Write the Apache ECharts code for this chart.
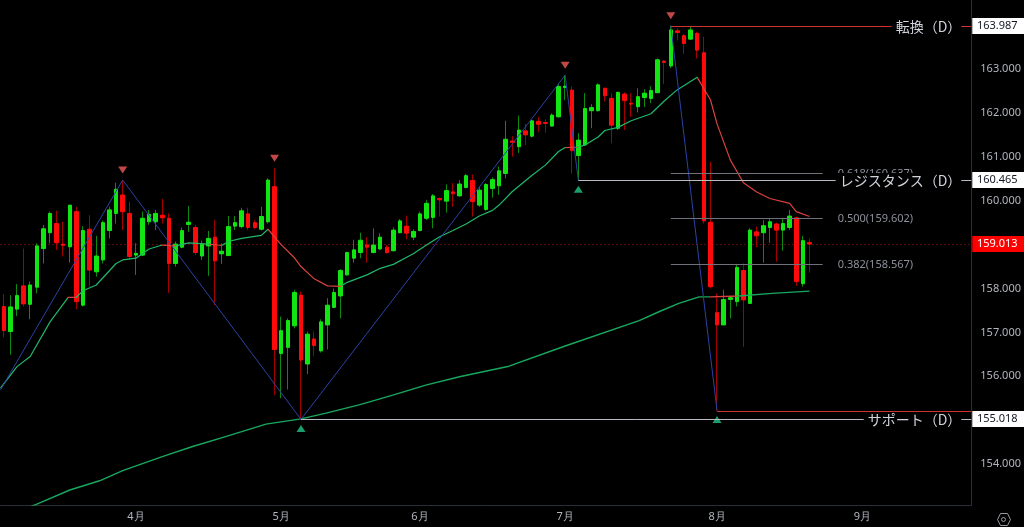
<!DOCTYPE html>
<html><head><meta charset="utf-8">
<style>html,body{margin:0;padding:0;background:#000;}#c{width:1024px;height:527px;}</style>
<script src="https://cdn.jsdelivr.net/npm/echarts@6/dist/echarts.min.js"></script>
</head><body><div id="c"></div>
<script>
// ---- candle data (index 0..122) ----
const opens  = [157.59,157.02,157.53,158.06,157.64,158.03,158.91,159.27,159.48,159.01,158.95,159.75,157.62,159.35,158.38,158.65,159.32,159.71,160.13,159.71,
158.76,158.76,159.52,159.52,159.67,159.60,158.57,158.94,159.46,159.39,158.74,158.97,159.17,158.79,158.75,159.42,159.41,159.70,159.50,159.35,
159.52,160.32,156.52,156.66,157.15,157.85,156.28,156.85,156.58,157.17,157.57,157.83,158.31,158.69,158.82,158.99,158.82,158.90,158.94,158.86,
159.27,159.42,159.17,159.32,159.60,159.62,160.05,159.99,160.20,160.11,160.30,160.46,159.90,159.80,160.28,160.34,160.62,161.36,161.23,161.59,
161.47,161.81,161.78,161.70,161.91,162.58,162.52,161.03,161.27,162.05,162.05,162.56,162.33,161.65,162.43,162.22,162.14,162.35,162.33,162.46,
163.18,163.07,163.87,163.76,163.68,163.81,163.37,159.51,157.45,157.17,157.75,157.70,158.41,157.66,159.29,159.27,159.39,159.47,159.33,159.39,
159.61,158.11,159.05];
const highs  = [157.87,157.85,158.10,158.91,158.16,159.03,159.45,159.75,159.77,159.52,159.90,159.86,159.42,159.67,159.20,159.55,159.86,160.41,160.47,159.98,
159.03,159.75,159.79,159.79,160.04,159.71,159.07,159.39,159.88,159.45,159.09,159.31,159.56,159.03,159.65,159.65,159.84,159.84,159.56,159.86,
160.51,160.74,157.36,157.32,157.97,157.93,157.02,157.02,157.30,157.78,158.00,158.44,158.84,159.11,159.27,159.17,159.37,159.26,158.99,159.39,
159.58,159.66,159.35,159.75,160.02,160.15,160.07,160.37,160.40,160.47,160.61,160.60,160.32,160.40,160.53,160.78,161.82,161.47,161.94,161.75,
161.85,161.91,161.85,161.99,162.67,162.86,162.60,161.54,162.45,162.20,162.67,162.58,162.45,162.48,162.47,162.45,162.56,162.54,162.61,163.24,
163.20,163.987,163.93,163.80,163.96,163.85,163.74,160.89,157.89,157.97,157.83,158.56,158.57,159.37,159.41,159.56,159.58,159.50,159.60,159.79,
159.64,159.20,159.14];
const lows   = [156.89,156.49,157.37,157.59,157.30,157.89,158.57,159.03,158.88,158.73,158.59,157.53,157.59,158.04,158.27,158.57,159.14,159.48,159.33,158.65,
158.31,158.74,159.45,159.33,159.48,157.90,158.50,158.92,159.29,158.76,158.65,158.29,157.62,158.56,158.74,159.33,159.37,159.33,159.35,159.32,
159.48,155.57,155.50,155.70,157.09,155.018,156.05,156.46,156.54,156.61,157.56,157.32,158.29,158.59,158.69,158.59,158.80,158.88,158.79,158.84,
159.26,159.12,159.10,159.30,159.56,159.37,159.64,159.73,159.86,160.09,160.28,159.64,159.86,159.77,160.07,160.13,160.51,161.00,161.09,161.27,
161.44,161.57,161.55,161.69,161.90,162.29,160.62,160.465,161.25,161.65,162.03,162.26,161.31,161.61,161.61,161.91,162.01,162.13,162.22,162.45,
162.66,163.02,163.65,163.34,163.66,163.24,159.48,158.00,155.218,157.17,157.32,157.59,156.67,157.66,158.94,158.59,159.04,158.61,158.86,159.33,
158.06,158.04,158.36];
const closes = [157.04,157.58,157.84,157.65,158.08,158.97,159.36,159.71,159.04,158.98,159.90,157.70,159.32,158.42,158.74,159.50,159.79,160.26,159.75,158.73,
158.80,159.60,159.69,159.71,159.61,158.57,159.01,159.32,159.51,158.82,159.01,159.14,158.63,158.85,159.41,159.50,159.77,159.39,159.39,159.64,
160.47,156.61,157.04,157.27,157.91,156.37,156.96,156.70,157.24,157.62,157.91,158.41,158.82,158.88,159.10,158.94,158.99,159.17,158.82,159.33,
159.54,159.26,159.30,159.70,159.94,160.11,160.02,160.23,160.16,160.38,160.57,159.98,160.24,160.37,160.48,160.68,161.40,161.33,161.61,161.50,
161.82,161.74,161.76,161.95,162.60,162.61,161.14,161.38,162.10,162.12,162.64,162.39,161.72,162.47,162.28,162.20,162.37,162.45,162.51,163.21,
163.15,163.89,163.83,163.58,163.89,163.43,159.54,158.04,157.17,157.75,157.79,158.48,157.74,159.33,159.20,159.43,159.52,159.33,159.48,159.65,
158.16,159.09,159.013];

// ---- axis ----
const totalSlots = 147;                       // daily slots incl. empty future area
const monthLabels = ['4月','5月','6月','7月','8月','9月'];
const monthIdx = [20,42,63,85,108,130];
const yTicks = [154,155,156,157,158,159,160,161,162,163];
const yMin = 153.068, yMax = 164.572;

// ---- moving averages (read at points) ----
const shortMaIdx = [-0.5,2,4,7,9.75,11,12,14,17,18,20,22,24,26,28,31,33,34,36,39,40,42,44,45,47,49,51,52,55,57,59,61,62,64,66,68,70,72,74,75,77,80,82,84,85,87,88,90,91,93,95,98,100,102,105,106,107,108,110,112,114,116,119,120,122];
const shortMaVal = [155.73,156.22,156.45,157.24,157.80,157.80,157.95,158.08,158.57,158.65,158.69,158.90,158.99,158.97,159.04,159.01,158.98,159.07,159.14,159.21,159.35,159.00,158.70,158.50,158.22,158.06,158.05,158.14,158.31,158.46,158.55,158.71,158.79,158.99,159.18,159.32,159.47,159.65,159.78,159.90,160.21,160.58,160.81,161.12,161.21,161.22,161.27,161.45,161.60,161.67,161.82,161.98,162.27,162.53,162.81,162.55,162.30,161.75,160.93,160.41,160.20,160.05,159.94,159.75,159.64];
const shortMaDown = [[9.75,11],[24,26],[31,33],[40,51],[85,87],[105,123]];
const longMaIdx = [0,5,10,14.5,18,24,28.6,33.7,39.7,45,48.8,53.8,58.9,63.9,69,76.5,85,96.2,99.2,102.2,105.3,107,111.3,116.3,122];
const longMaVal = [152.77,153.09,153.41,153.62,153.85,154.17,154.40,154.63,154.91,155.03,155.16,155.35,155.57,155.80,155.99,156.23,156.69,157.27,157.47,157.66,157.81,157.81,157.83,157.89,157.94];
const longMaDown = [[107,111]];

// ---- zigzag & pivots ----
const zigzagStart = [-0.5, 155.69];
const zigzagLegA = [18,45,85,87];   // pivot indices (high/low alternating)
const zigzagLegB = [101,108];
const pivotHighIdx = [18,41,85,101];
const pivotLowIdx = [45,87,108];

// ---- levels ----
const levelNames = ['転換（D）','レジスタンス（D）','サポート（D）'];
const levelPrices = [163.987,160.465,155.018];
const levelStart = [101,87,45];
const swingLowPrice = 155.218, swingLowStart = 108;
const fibRatios = [0.618,0.5,0.382];
const fibHigh = 163.987, fibLow = 155.2175, fibStart = 101, fibEnd = 124;
const lastPrice = 159.013;
const tagPrices = [163.987,160.465,155.018,159.013];

// ---- build ----
const GREEN = '#1fb86a', RED = '#d8433e';
function pieces(down, green, red){
  const p = []; let cur = -10;
  down.forEach(([a,b])=>{ p.push({gte:cur, lt:a, color:green}); p.push({gte:a, lt:b, color:red}); cur = b; });
  p.push({gte:cur, lt:1000, color:green});
  return p;
}
const cats = Array.from({length: totalSlots}, (_, i) => String(i));
const wickData = opens.map((o,i)=>[o, closes[i], lows[i], highs[i]]);
const bodyData = opens.map((o,i)=>[o, closes[i], Math.min(o,closes[i]), Math.max(o,closes[i])]);
const crisp = v => Math.round(v) + 0.5;

const chart = echarts.init(document.getElementById('c'), null, {renderer:'canvas'});
chart.setOption({
  backgroundColor:'#000',
  animation:false,
  grid:{left:0.5, right:51, top:0, bottom:22},
  xAxis:[{
    type:'category', data:cats, boundaryGap:true,
    axisLine:{onZero:false, lineStyle:{color:'#2a2e39'}}, axisTick:{show:false},
    axisLabel:{color:'#b2b5be', fontSize:11, margin:6, fontFamily:'Noto Sans',
      interval:(i)=>monthIdx.includes(i),
      formatter:(v,i)=>{const k = monthIdx.indexOf(i); return k>=0 ? monthLabels[k] : '';}},
    splitLine:{show:false}
  },{
    type:'value', min:-0.5, max:totalSlots-0.5, show:false,
    axisLine:{onZero:false}
  }],
  yAxis:{
    type:'value', position:'right', min:yMin, max:yMax, scale:true,
    axisLine:{show:true, onZero:false, lineStyle:{color:'#2a2e39'}}, axisTick:{show:false},
    splitLine:{show:false},
    axisLabel:{customValues:yTicks, color:'#b2b5be', fontSize:11, margin:9, fontFamily:'Noto Sans',
      formatter:v=>v.toFixed(3)}
  },
  visualMap:[
    {type:'piecewise', show:false, seriesIndex:2, dimension:0, pieces:pieces(shortMaDown, GREEN, RED)},
    {type:'piecewise', show:false, seriesIndex:3, dimension:0, pieces:pieces(longMaDown, '#17a85e', RED)}
  ],
  series:[
    {type:'candlestick', name:'wick', xAxisIndex:0, data:wickData, barWidth:1, silent:true, z:2,
      itemStyle:{color:'#0e8a0e', color0:'#a30000', borderColor:'#0e8a0e', borderColor0:'#a30000', borderWidth:1}},
    {type:'candlestick', name:'body', xAxisIndex:0, data:bodyData, barWidth:4, silent:true, z:3,
      itemStyle:{color:'#12e612', color0:'#ff0a0a', borderColor:'#12e612', borderColor0:'#ff0a0a', borderWidth:1}},
    {type:'line', name:'MA short', xAxisIndex:1, data:shortMaIdx.map((x,i)=>[x, shortMaVal[i]]),
      symbol:'none', lineStyle:{width:1.2}, z:4, silent:true},
    {type:'line', name:'MA long', xAxisIndex:1, data:longMaIdx.map((x,i)=>[x, longMaVal[i]]),
      symbol:'none', lineStyle:{width:1.4}, z:4, silent:true},
    {type:'line', name:'zigzag A', xAxisIndex:1, symbol:'none', silent:true, z:4,
      data:[zigzagStart].concat(zigzagLegA.map((x,k)=>[x, k%2===0 ? highs[x] : lows[x]])),
      lineStyle:{color:'#2b42a6', width:1}},
    {type:'line', name:'zigzag B', xAxisIndex:1, symbol:'none', silent:true, z:4,
      data:zigzagLegB.map((x,k)=>[x, k%2===0 ? highs[x] : lows[x]]),
      lineStyle:{color:'#2b42a6', width:1}},
    {type:'scatter', name:'pivot high', xAxisIndex:1, symbol:'triangle', symbolRotate:180,
      symbolSize:[9,7], symbolOffset:[0,-10], silent:true, z:6,
      itemStyle:{color:'#f25a5a'}, data:pivotHighIdx.map(x=>[x, highs[x]])},
    {type:'scatter', name:'pivot low', xAxisIndex:1, symbol:'triangle',
      symbolSize:[9,7], symbolOffset:[0,9], silent:true, z:6,
      itemStyle:{color:'#22c487'}, data:pivotLowIdx.map(x=>[x, lows[x]])},
    // last price dotted line
    {type:'custom', name:'last price', xAxisIndex:1, clip:false, silent:true, z:1,
      data:[[0, lastPrice]],
      renderItem:(params, api)=>{
        const cs = params.coordSys; const p = api.coord([0, api.value(1)]);
        const y = crisp(p[1]);
        return {type:'line', shape:{x1:cs.x, y1:y, x2:cs.x+cs.width, y2:y},
          style:{stroke:'#b31717', lineWidth:1, lineDash:[1,3]}};
      }},
    // fib retracement
    {type:'custom', name:'fib', xAxisIndex:1, clip:false, silent:true, z:5,
      data:fibRatios.map(r=>[fibStart, fibLow + r*(fibHigh-fibLow), r]),
      renderItem:(params, api)=>{
        const s = api.coord([api.value(0), api.value(1)]);
        const e = api.coord([fibEnd, api.value(1)]);
        const y = crisp(s[1]);
        return {type:'group', children:[
          {type:'line', shape:{x1:s[0], y1:y, x2:e[0], y2:y}, style:{stroke:'#6f727c', lineWidth:1}},
          {type:'text', style:{text: api.value(2).toFixed(3)+'('+api.value(1).toFixed(3)+')',
            x:e[0]+15, y:y, align:'left', verticalAlign:'middle', fill:'#8d909a', font:'11px "Noto Sans"'}}
        ]};
      }},
    // named levels
    {type:'custom', name:'levels', xAxisIndex:1, clip:false, silent:true, z:7,
      data:levelPrices.map((p,i)=>[levelStart[i], p]),
      renderItem:(params, api)=>{
        const cs = params.coordSys; const i = params.dataIndex;
        const s = api.coord([api.value(0), api.value(1)]);
        const right = cs.x + cs.width; const y = crisp(s[1]);
        const col = i===0 ? '#d03232' : '#b8bbc3';
        return {type:'group', children:[
          {type:'line', shape:{x1:s[0], y1:y, x2:right, y2:y}, style:{stroke:col, lineWidth:1}},
          {type:'text', z2:10, style:{text:levelNames[i], x:right-10, y:y, align:'right', verticalAlign:'middle',
            fill:'#d1d4dc', font:'14px "Noto Sans CJK JP"', backgroundColor:'#000', padding:[1,0,0,4]}}
        ]};
      }},
    // swing low red line
    {type:'custom', name:'swing low', xAxisIndex:1, clip:false, silent:true, z:9,
      data:[[swingLowStart, swingLowPrice]],
      renderItem:(params, api)=>{
        const cs = params.coordSys; const s = api.coord([api.value(0), api.value(1)]);
        const y = crisp(s[1]);
        return {type:'line', shape:{x1:s[0], y1:y, x2:cs.x+cs.width, y2:y}, style:{stroke:'#d03232', lineWidth:1}};
      }},
    // axis tags
    {type:'custom', name:'tags', xAxisIndex:1, clip:false, silent:true, z:10,
      data:tagPrices.map(p=>[0, p]),
      renderItem:(params, api)=>{
        const cs = params.coordSys; const i = params.dataIndex;
        const s = api.coord([0, api.value(1)]);
        const right = cs.x + cs.width; const y = Math.round(s[1]);
        const isLast = i === tagPrices.length-1;
        return {type:'group', children:[
          {type:'rect', shape:{x:right+1, y:y-8, width:52, height:16},
            style:{fill: isLast ? '#ff0000' : '#ffffff'}},
          {type:'text', style:{text:api.value(1).toFixed(3), x:right+26, y:y, align:'center', verticalAlign:'middle',
            fill: isLast ? '#ffffff' : '#131722', font:'11px "Noto Sans"'}}
        ]};
      }}
  ],
  graphic:[
    {type:'polygon', left:995, top:511, shape:{points:[[3,0],[10,0],[13,6],[10,12],[3,12],[0,6]]},
      style:{fill:'none', stroke:'#9598a1', lineWidth:1}},
    {type:'circle', left:999, top:515, shape:{r:2}, style:{fill:'none', stroke:'#9598a1', lineWidth:1}}
  ]
});
</script></body></html>
